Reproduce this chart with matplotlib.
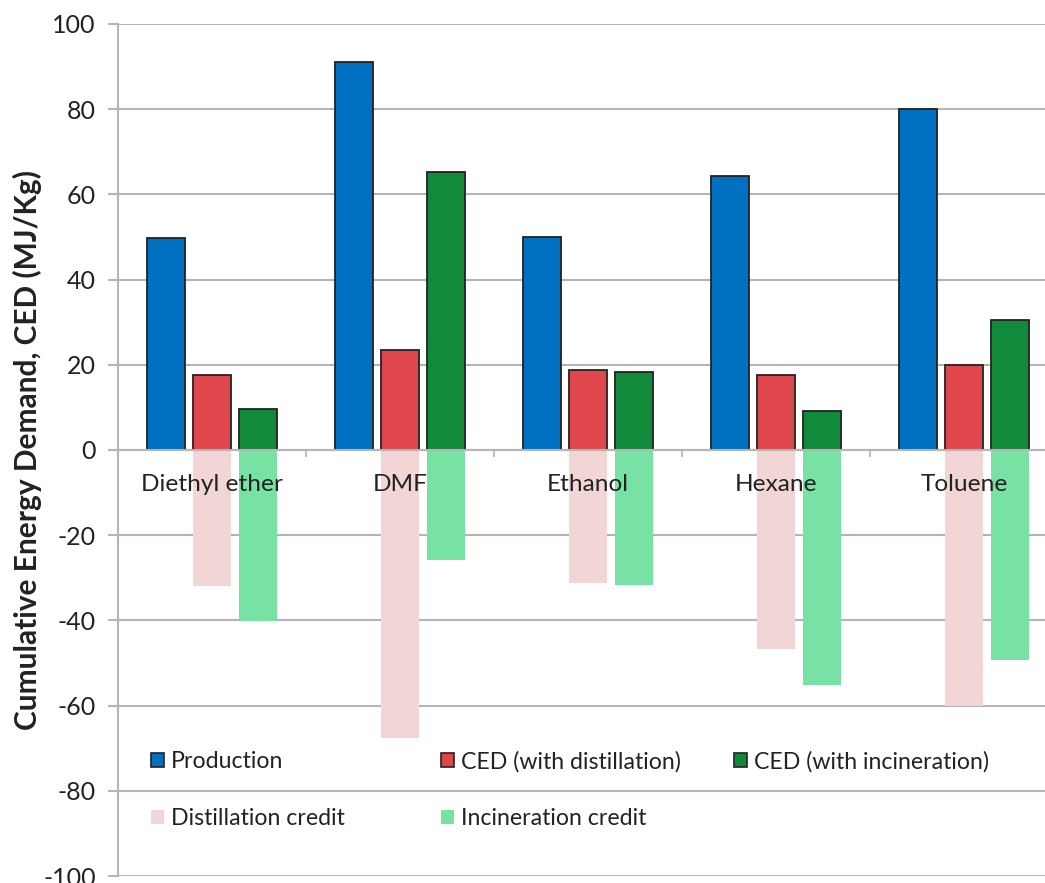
import matplotlib
matplotlib.use("Agg")
import matplotlib.pyplot as plt
import numpy as np
from matplotlib.patches import Patch

plt.rcParams['font.family'] = ['Lato', 'DejaVu Sans']

categories = ["Diethyl ether", "DMF", "Ethanol", "Hexane", "Toluene"]
production = [49.8, 91.0, 50.0, 64.3, 80.0]
ced_distillation = [17.7, 23.4, 18.8, 17.6, 20.0]
ced_incineration = [9.6, 65.2, 18.3, 9.2, 30.6]
distillation_credit = [-31.9, -67.5, -31.3, -46.7, -60.2]
incineration_credit = [-40.1, -25.9, -31.8, -55.1, -49.3]
yticks = [-100, -80, -60, -40, -20, 0, 20, 40, 60, 80, 100]

C_PROD = "#0070C0"
C_DIST = "#E0474C"
C_INC = "#118A3A"
C_DCRED = "#F2D6D6"
C_ICRED = "#78E2A4"
GRID = "#B5B5B5"
TXT = "#222222"

fig = plt.figure(figsize=(10.45, 8.83), dpi=100)
ax = fig.add_axes([118/1045, 7/883, 927/1045, 852/883])

x = np.arange(len(categories)) + 0.5
w = 0.2
off = 0.245
ec = "#222222"
ax.bar(x - off, production, w, color=C_PROD, edgecolor=ec, linewidth=1.3, zorder=3)
ax.bar(x, ced_distillation, w, color=C_DIST, edgecolor=ec, linewidth=1.3, zorder=3)
ax.bar(x + off, ced_incineration, w, color=C_INC, edgecolor=ec, linewidth=1.3, zorder=3)
ax.bar(x, distillation_credit, w, color=C_DCRED, linewidth=0, zorder=3)
ax.bar(x + off, incineration_credit, w, color=C_ICRED, linewidth=0, zorder=3)

for xi, name in zip(x, categories):
    ax.text(xi, -8, name, ha="center", va="center", fontsize=17.6, color=TXT, zorder=5)

ax.set_xlim(0, 927/188)
ax.set_ylim(-100, 100)
ax.set_yticks(yticks)
ax.set_yticklabels([str(v) for v in yticks], fontsize=18, color=TXT)
ax.yaxis.grid(True, color=GRID, linewidth=1.5, zorder=0)
ax.set_axisbelow(True)

ax.spines['top'].set_visible(False)
ax.spines['right'].set_visible(False)
ax.spines['left'].set_color(GRID)
ax.spines['left'].set_linewidth(1.5)
ax.spines['bottom'].set_position(('data', 0))
ax.spines['bottom'].set_color(GRID)
ax.spines['bottom'].set_linewidth(1.5)
ax.spines['bottom'].set_zorder(4)
ax.set_xticks(np.arange(1, len(categories)))
ax.set_xticklabels([])
ax.tick_params(axis='x', length=5, color=GRID, width=1.2)
ax.tick_params(axis='y', length=7, color=GRID, width=1.5, pad=9)

ax.set_ylabel("Cumulative Energy Demand, CED (MJ/Kg)", fontsize=21.5, fontweight="bold", color=TXT)
ax.yaxis.set_label_coords((42 - 118) / 927, 0.5)

h_prod = Patch(facecolor=C_PROD, edgecolor=ec, linewidth=1.2)
h_dist = Patch(facecolor=C_DIST, edgecolor=ec, linewidth=1.2)
h_inc = Patch(facecolor=C_INC, edgecolor=ec, linewidth=1.2)
h_dc = Patch(facecolor=C_DCRED, linewidth=0)
h_ic = Patch(facecolor=C_ICRED, linewidth=0)

common = dict(frameon=False, fontsize=16.7, handlelength=0.55, handleheight=0.55,
              handletextpad=0.3, labelspacing=1.55, borderpad=0, borderaxespad=0,
              loc="upper left", bbox_transform=fig.transFigure, labelcolor=TXT)
top = 1 - 751/883
leg1 = fig.legend([h_prod, h_dc], ["Production", "Distillation credit"],
                  bbox_to_anchor=(151/1045, top), **common)
leg2 = fig.legend([h_dist, h_ic], ["CED (with distillation)", "Incineration credit"],
                  bbox_to_anchor=(441/1045, top), **common)
leg3 = fig.legend([h_inc], ["CED (with incineration)"],
                  bbox_to_anchor=(734/1045, top), **common)

fig.savefig("out.png", dpi=100)
